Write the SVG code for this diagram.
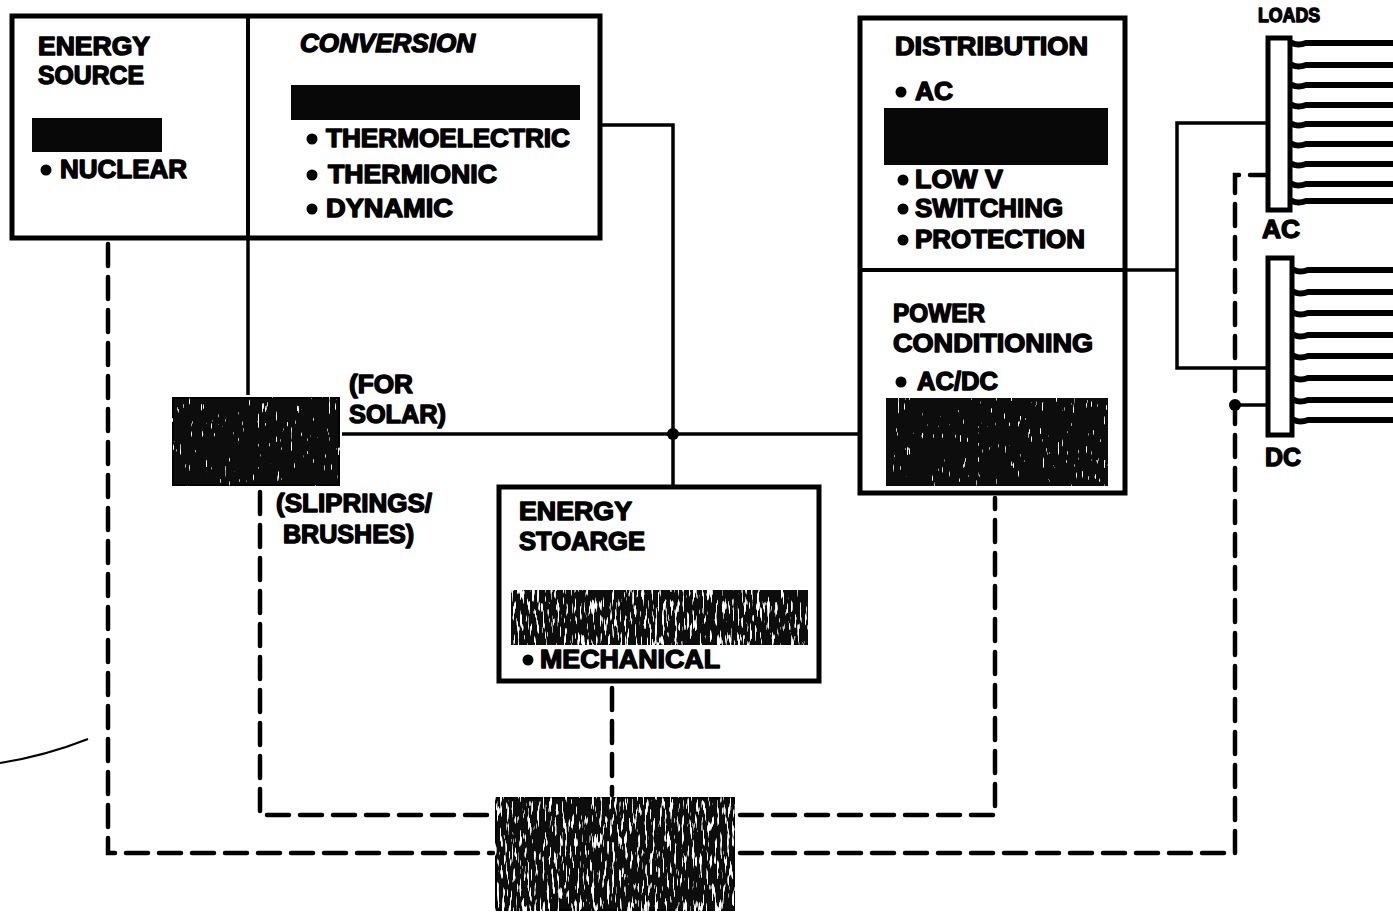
<svg xmlns="http://www.w3.org/2000/svg" width="1393" height="915" viewBox="0 0 1393 915">
<style>
.box{fill:#fff;stroke:#000;stroke-width:5}
.bar{fill:#080808}
.t{font-family:"Liberation Sans",Arial,sans-serif;font-weight:bold;font-size:25px;fill:#000;stroke:#000;stroke-width:1.4;stroke-linejoin:round}
.s{font-size:20px}
.ln{fill:none;stroke:#000;stroke-width:3.5}
.dash{fill:none;stroke:#000;stroke-width:4.5;stroke-dasharray:22 11;stroke-linecap:round}
.load{fill:none;stroke:#000;stroke-width:6;stroke-linecap:round}
</style>
<defs>
<filter id="grainLight" x="0" y="0" width="100%" height="100%">
<feTurbulence type="fractalNoise" baseFrequency="0.45 0.07" numOctaves="2" seed="4" result="n"/>
<feColorMatrix in="n" type="matrix" values="0 0 0 0 1  0 0 0 0 1  0 0 0 0 1  16 0 0 0 -11.5" result="sp"/>
<feComposite in="sp" in2="SourceGraphic" operator="atop"/>
</filter>
<filter id="grainHeavy" x="0" y="0" width="100%" height="100%">
<feTurbulence type="fractalNoise" baseFrequency="0.4 0.06" numOctaves="2" seed="7" result="n"/>
<feColorMatrix in="n" type="matrix" values="0 0 0 0 1  0 0 0 0 1  0 0 0 0 1  12 0 0 0 -7.0" result="sp"/>
<feComposite in="sp" in2="SourceGraphic" operator="atop"/>
</filter>
</defs>
<rect width="1393" height="915" fill="#fff"/>

<g id="connectors">
<line class="ln" x1="248" y1="240" x2="248" y2="395"/>
<polyline class="ln" points="602,125 673,125 673,485"/>
<line class="ln" x1="342" y1="434" x2="858" y2="434"/>
<circle cx="673" cy="434" r="6" fill="#000"/>
<line class="ln" x1="1127" y1="270" x2="1177" y2="270"/>
<polyline class="ln" points="1267,123 1177,123 1177,368 1267,368"/>
<polyline class="dash" points="108,244 108,853 493,853"/>
<polyline class="dash" points="740,853 1235,853 1235,175 1267,175"/>
<polyline class="dash" points="260,492 260,815 493,815"/>
<polyline class="dash" points="740,815 995,815 995,498"/>
<line class="dash" x1="612" y1="688" x2="612" y2="795"/>
<circle cx="1235" cy="405" r="6" fill="#000"/>
<line class="ln" x1="1238" y1="405" x2="1267" y2="405" stroke-width="4.5"/>
<path d="M0,763 Q45,756 88,739" fill="none" stroke="#000" stroke-width="2"/>
</g>

<g id="source-conversion">
<rect class="box" x="12" y="16" width="588" height="222"/>
<line x1="248" y1="16" x2="248" y2="238" stroke="#000" stroke-width="4"/>
</g>

<g id="energy-source">
<text class="t" x="38" y="55" textLength="112" lengthAdjust="spacingAndGlyphs">ENERGY</text>
<text class="t" x="38" y="84" textLength="106" lengthAdjust="spacingAndGlyphs">SOURCE</text>
<rect class="bar" x="32" y="118" width="130" height="34"/>
<circle cx="46" cy="170" r="5.5"/>
<text class="t" x="60" y="178" textLength="127" lengthAdjust="spacingAndGlyphs">NUCLEAR</text>
</g>

<g id="conversion">
<text class="t" x="300" y="52" font-style="italic" textLength="175" lengthAdjust="spacingAndGlyphs">CONVERSION</text>
<rect class="bar" x="291" y="85" width="289" height="35"/>
<circle cx="312" cy="139" r="5.5"/>
<text class="t" x="326" y="147" textLength="244" lengthAdjust="spacingAndGlyphs">THERMOELECTRIC</text>
<circle cx="312" cy="175" r="5.5"/>
<text class="t" x="328" y="183" textLength="169" lengthAdjust="spacingAndGlyphs">THERMIONIC</text>
<circle cx="312" cy="209" r="5.5"/>
<text class="t" x="326" y="217" textLength="127" lengthAdjust="spacingAndGlyphs">DYNAMIC</text>
</g>

<g id="slip-rings">
<rect x="172" y="397" width="168" height="89" fill="#0a0a0a" stroke="#000" stroke-width="4" filter="url(#grainLight)"/>
<text class="t" x="349" y="393" textLength="64" lengthAdjust="spacingAndGlyphs">(FOR</text>
<text class="t" x="349" y="423" textLength="97" lengthAdjust="spacingAndGlyphs">SOLAR)</text>
<text class="t" x="276" y="512" textLength="156" lengthAdjust="spacingAndGlyphs">(SLIPRINGS/</text>
<text class="t" x="283" y="543" textLength="131" lengthAdjust="spacingAndGlyphs">BRUSHES)</text>
</g>

<g id="energy-storage">
<rect class="box" x="499" y="487" width="320" height="194"/>
<text class="t" x="519" y="520" textLength="113" lengthAdjust="spacingAndGlyphs">ENERGY</text>
<text class="t" x="519" y="550" textLength="126" lengthAdjust="spacingAndGlyphs">STOARGE</text>
<rect x="511" y="590" width="297" height="55" fill="#0a0a0a" filter="url(#grainHeavy)"/>
<circle cx="528" cy="660" r="5.5"/>
<text class="t" x="540" y="668" textLength="180" lengthAdjust="spacingAndGlyphs">MECHANICAL</text>
</g>

<g id="distribution-conditioning">
<rect class="box" x="860" y="18" width="265" height="475"/>
<line x1="860" y1="270" x2="1125" y2="270" stroke="#000" stroke-width="4"/>
<text class="t" x="895" y="55" textLength="193" lengthAdjust="spacingAndGlyphs">DISTRIBUTION</text>
<circle cx="901" cy="92" r="5.5"/>
<text class="t" x="915" y="100" textLength="38" lengthAdjust="spacingAndGlyphs">AC</text>
<rect class="bar" x="884" y="108" width="224" height="57"/>
<circle cx="903" cy="180" r="5.5"/>
<text class="t" x="915" y="188" textLength="88" lengthAdjust="spacingAndGlyphs">LOW V</text>
<circle cx="903" cy="209" r="5.5"/>
<text class="t" x="915" y="217" textLength="148" lengthAdjust="spacingAndGlyphs">SWITCHING</text>
<circle cx="903" cy="240" r="5.5"/>
<text class="t" x="915" y="248" textLength="170" lengthAdjust="spacingAndGlyphs">PROTECTION</text>
<text class="t" x="893" y="322" textLength="92" lengthAdjust="spacingAndGlyphs">POWER</text>
<text class="t" x="893" y="352" textLength="200" lengthAdjust="spacingAndGlyphs">CONDITIONING</text>
<circle cx="901" cy="382" r="5.5"/>
<text class="t" x="917" y="390" textLength="81" lengthAdjust="spacingAndGlyphs">AC/DC</text>
<rect x="886" y="398" width="222" height="88" fill="#0a0a0a" filter="url(#grainLight)"/>
</g>

<g id="loads">
<text class="t s" x="1258" y="22" textLength="62" lengthAdjust="spacingAndGlyphs">LOADS</text>
<rect x="1268" y="38" width="22" height="172" fill="#fff" stroke="#000" stroke-width="5"/>
<text class="t" x="1262" y="238" textLength="38" lengthAdjust="spacingAndGlyphs">AC</text>
<rect x="1268" y="258" width="24" height="177" fill="#fff" stroke="#000" stroke-width="5"/>
<text class="t" x="1265" y="466" textLength="36" lengthAdjust="spacingAndGlyphs">DC</text>
<path class="load" d="M1292,43 q6,3 14,0 L1393,43 M1292,65 q6,3 14,0 L1393,65 M1292,85 q6,3 14,0 L1393,85 M1292,105 q6,3 14,0 L1393,105 M1292,124 q6,3 14,0 L1393,124 M1292,144 q6,3 14,0 L1393,144 M1292,164 q6,3 14,0 L1393,164 M1292,184 q6,3 14,0 L1393,184 M1292,201 q6,3 14,0 L1393,201"/>
<path class="load" d="M1294,270 q6,3 14,0 L1393,270 M1294,292 q6,3 14,0 L1393,292 M1294,313 q6,3 14,0 L1393,313 M1294,335 q6,3 14,0 L1393,335 M1294,356 q6,3 14,0 L1393,356 M1294,378 q6,3 14,0 L1393,378 M1294,400 q6,3 14,0 L1393,400 M1294,420 q6,3 14,0 L1393,420"/>
</g>

<g id="control">
<rect x="495" y="797" width="240" height="114" fill="#111" stroke="#000" stroke-width="4" filter="url(#grainHeavy)"/>
</g>
</svg>
